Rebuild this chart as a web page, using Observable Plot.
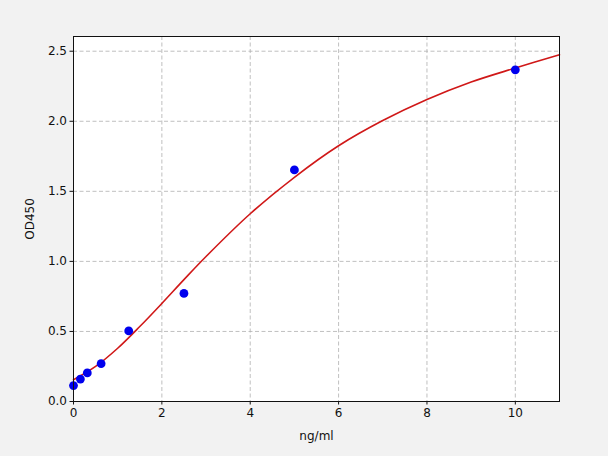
<!DOCTYPE html>
<html>
<head>
<meta charset="utf-8">
<script src="https://cdn.jsdelivr.net/npm/d3@7"></script>
<script src="https://cdn.jsdelivr.net/npm/@observablehq/plot@0.6"></script>
<style>
  html, body { margin: 0; padding: 0; background: #f2f2f2; }
  #chart { width: 608px; height: 456px; }
</style>
</head>
<body>
<div id="chart"></div>
<script>
// Standard points
const conc = [0, 0.156, 0.3125, 0.625, 1.25, 2.5, 5, 10];
const od = [0.114, 0.160, 0.204, 0.270, 0.504, 0.771, 1.653, 2.367];

// Fitted curve
const curveX = [0, 0.5, 1, 1.5, 2, 2.5, 3, 4, 5, 6, 7, 8, 9, 10, 11];
const curveY = [0.155, 0.25, 0.38, 0.535, 0.70, 0.87, 1.035, 1.34, 1.60, 1.825, 2.005, 2.155, 2.28, 2.38, 2.475];

const xTicks = [0, 2, 4, 6, 8, 10];
const yTicks = [0, 0.5, 1.0, 1.5, 2.0, 2.5];

const points = conc.map((c, i) => ({x: c, y: od[i]}));
const curve = curveX.map((c, i) => ({x: c, y: curveY[i]}));

const chart = Plot.plot({
  width: 608,
  height: 456,
  marginLeft: 73,
  marginRight: 49,
  marginTop: 36,
  marginBottom: 55,
  style: {background: "#f2f2f2", fontFamily: "DejaVu Sans", fontSize: "12px", color: "#111"},
  x: {domain: [0, 11]},
  y: {domain: [0, 2.605]},
  marks: [
    Plot.frame({fill: "white", stroke: null}),
    Plot.gridX(xTicks, {stroke: "#b0b0b0", strokeOpacity: 1, strokeDasharray: "4,2.5", strokeWidth: 0.8}),
    Plot.gridY(yTicks, {stroke: "#b0b0b0", strokeOpacity: 1, strokeDasharray: "4,2.5", strokeWidth: 0.8}),
    Plot.axisX({ticks: xTicks, tickSize: 3.5, tickPadding: 3, tickFormat: d3.format("d"), fontSize: 12,
      label: "ng/ml", labelAnchor: "center", labelArrow: "none", labelOffset: 38}),
    Plot.axisY({ticks: yTicks, tickSize: 3.5, tickPadding: 3, tickFormat: d3.format(".1f"), fontSize: 12,
      label: "OD450", labelAnchor: "center", labelArrow: "none", labelOffset: 48}),
    Plot.line(curve, {x: "x", y: "y", stroke: "#d01818", strokeWidth: 1.6, curve: "catmull-rom"}),
    Plot.dot(points, {x: "x", y: "y", r: 4.4, fill: "#0000ee", stroke: null}),
    Plot.frame({stroke: "#111", strokeWidth: 1})
  ]
});
document.getElementById("chart").appendChild(chart);
</script>
</body>
</html>
